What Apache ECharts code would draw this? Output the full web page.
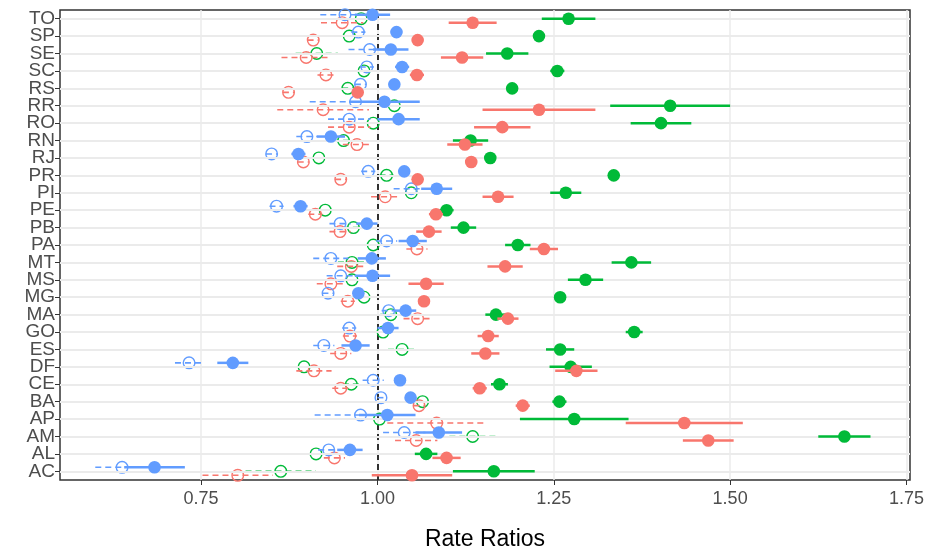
<!DOCTYPE html>
<html>
<head>
<meta charset="utf-8">
<script src="https://cdn.jsdelivr.net/npm/echarts@6/dist/echarts.min.js"></script>
<style>html,body{margin:0;padding:0;background:#fff}#main{width:929px;height:558px}</style>
</head>
<body>
<div id="main"></div>
<script>
// categories, bottom to top
var states = ['AC','AL','AM','AP','BA','CE','DF','ES','GO','MA','MG','MS','MT','PA','PB','PE','PI','PR','RJ','RN','RO','RR','RS','SC','SE','SP','TO'];
var xTicks = [0.75, 1.00, 1.25, 1.50, 1.75];

// blue, filled / hollow
var blueFill = [0.684,0.961,1.087,1.014,1.047,1.032,0.795,0.969,1.015,1.040,0.973,0.993,0.992,1.050,0.985,0.891,1.084,1.038,0.888,0.934,1.030,1.010,1.024,1.035,1.019,1.027,0.993];
var blueFillErr = [.043,.018,.033,.04,.008,.008,.022,.02,.015,.015,.008,.025,.02,.02,.015,.01,.022,.008,.01,.02,.03,.05,.008,.01,.025,.008,.025];
var blueHollow = [0.638,0.931,1.038,0.976,1.005,0.994,0.733,0.924,0.960,1.016,0.930,0.948,0.934,1.013,0.947,0.857,1.048,0.987,0.850,0.900,0.960,0.969,0.976,0.985,0.989,0.973,0.954];
var blueHollowErr = [.038,.015,.03,.065,.005,.015,.02,.015,.01,.01,.008,.02,.025,.015,.015,.01,.025,.01,.008,.015,.03,.065,.008,.01,.03,.01,.035];
// green
var greenFill = [1.165,1.069,1.662,1.279,1.258,1.173,1.274,1.259,1.364,1.168,1.259,1.295,1.360,1.199,1.122,1.098,1.267,1.335,1.160,1.132,1.402,1.415,1.191,1.255,1.184,1.229,1.271];
var greenFillErr = [.058,.016,.037,.077,.01,.012,.03,.02,.012,.015,.008,.025,.028,.018,.018,.01,.022,.008,.008,.025,.043,.085,.008,.01,.03,.008,.038];
var greenHollow = [0.863,0.913,1.135,1.003,1.064,0.963,0.896,1.035,1.008,1.019,0.981,0.964,0.964,0.994,0.966,0.926,1.048,1.013,0.917,0.952,0.994,1.024,0.958,0.981,0.914,0.960,0.977];
var greenHollowErr = [.05,.015,.033,.06,.008,.012,.02,.02,.015,.015,.01,.015,.02,.015,.015,.01,.02,.01,.008,.015,.02,.05,.008,.01,.03,.01,.025];
// red
var redFill = [1.049,1.098,1.469,1.435,1.206,1.145,1.282,1.153,1.157,1.185,1.066,1.069,1.181,1.236,1.073,1.083,1.171,1.057,1.133,1.124,1.177,1.229,0.972,1.056,1.120,1.057,1.135];
var redFillErr = [.057,.02,.036,.083,.01,.01,.03,.02,.015,.015,.008,.025,.025,.02,.018,.01,.022,.008,.008,.025,.04,.08,.008,.01,.03,.008,.034];
var redHollow = [0.802,0.939,1.055,1.084,1.059,0.948,0.910,0.948,0.961,1.057,0.958,0.934,0.963,1.056,0.947,0.912,1.011,0.948,0.895,0.971,0.960,0.923,0.874,0.927,0.899,0.909,0.950];
var redHollowErr = [.05,.015,.03,.07,.008,.012,.025,.015,.01,.02,.01,.02,.02,.015,.015,.01,.02,.008,.008,.02,.03,.065,.008,.012,.035,.008,.03];

function build(est, err) {
  var out = [];
  for (var i = 0; i < est.length; i++) {
    out.push([est[i], i, est[i] - err[i], est[i] + err[i]]);
  }
  return out;
}

//绘制每个点和误差线
function makeSeries(est, err, color, filled, dy) {
  return {
    type: 'custom',
    data: build(est, err),
    encode: { x: [0, 2, 3], y: 1 },
    z: filled ? 5 : 4,
    renderItem: function (params, api) {
      var p = api.coord([api.value(0), api.value(1)]);
      var lo = api.coord([api.value(2), api.value(1)]);
      var hi = api.coord([api.value(3), api.value(1)]);
      var y = p[1] + dy;
      return {
        type: 'group',
        children: [{
          type: 'line',
          shape: { x1: lo[0], y1: y, x2: hi[0], y2: y },
          style: { stroke: color, lineWidth: filled ? 2.5 : 1.6, lineDash: filled ? null : [6, 4] }
        }, {
          type: 'circle',
          shape: { cx: p[0], cy: y, r: filled ? 6.3 : 5.8 },
          style: filled ? { fill: color } : { fill: 'none', stroke: color, lineWidth: 1.4 }
        }]
      };
    }
  };
}

var myChart = echarts.init(document.getElementById('main'));
var option = {
  animation: false,
  grid: { left: 60, right: 19, top: 10, bottom: 78, show: true, borderColor: '#333', borderWidth: 1.5 },
  xAxis: {
    type: 'value', min: 0.55, max: 1.755,
    name: 'Rate Ratios', nameLocation: 'middle', nameGap: 48,
    nameTextStyle: { fontSize: 23, color: '#000', fontFamily: 'Liberation Sans' },
    axisLine: { show: false },
    axisTick: { show: true, customValues: xTicks, length: 5, lineStyle: { color: '#333' } },
    axisLabel: { customValues: xTicks, fontSize: 18, color: '#4d4d4d', fontFamily: 'Liberation Sans', margin: 10,
      formatter: function (v) { return v.toFixed(2); } },
    splitLine: { show: true, lineStyle: { color: '#ebebeb', width: 1.5 } }
  },
  yAxis: {
    type: 'category', data: states, boundaryGap: true,
    axisLine: { show: false },
    axisTick: { show: true, alignWithLabel: true, length: 5, lineStyle: { color: '#333' } },
    axisLabel: { fontSize: 19, color: '#4d4d4d', fontFamily: 'Liberation Sans', interval: 0, margin: 5 },
    splitLine: { show: false }
  },
  series: [
    {
      type: 'line', data: [], silent: true,
      markLine: {
        symbol: 'none', silent: true, label: { show: false },
        lineStyle: { color: '#ebebeb', width: 2, type: 'solid' },
        data: states.map(function (s) { return { yAxis: s }; })
      }
    },
    {
      type: 'line', data: [], silent: true,
      markLine: {
        symbol: 'none', silent: true, label: { show: false },
        lineStyle: { color: '#000', width: 1.6, type: [6, 4] },
        data: [{ xAxis: 1 }], z: 3
      }
    },
    makeSeries(greenHollow, greenHollowErr, '#00BA38', false, 0),
    makeSeries(redHollow, redHollowErr, '#F8766D', false, 4),
    makeSeries(blueHollow, blueHollowErr, '#619CFF', false, -4),
    makeSeries(greenFill, greenFillErr, '#00BA38', true, 0),
    makeSeries(redFill, redFillErr, '#F8766D', true, 4),
    makeSeries(blueFill, blueFillErr, '#619CFF', true, -4)
  ]
};
myChart.setOption(option, true);
</script>
</body>
</html>
